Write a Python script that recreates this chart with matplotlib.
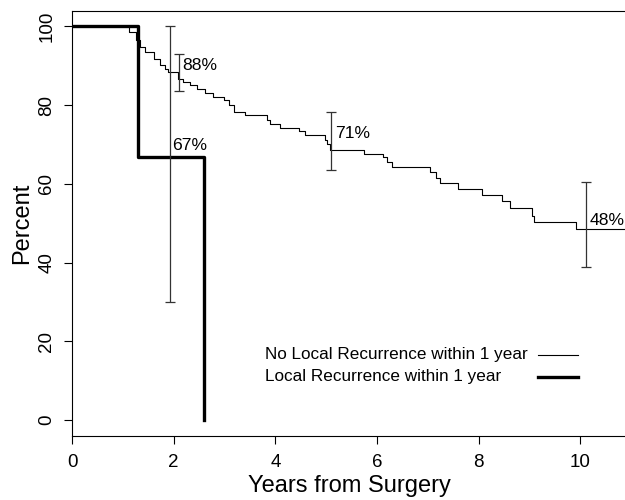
import matplotlib
matplotlib.use("Agg")
import matplotlib.pyplot as plt
from matplotlib.lines import Line2D

plt.rcParams['font.family'] = ['Liberation Sans', 'DejaVu Sans']

# no local recurrence within 1 year (Kaplan-Meier steps)
t_no = [0, 1.12, 1.25, 1.34, 1.44, 1.61, 1.74, 1.82, 1.89, 2.09, 2.19, 2.33, 2.46,
        2.62, 2.78, 2.98, 3.08, 3.18, 3.40, 3.84, 3.90, 4.10, 4.46, 4.59, 4.97,
        5.02, 5.08, 5.74, 6.12, 6.20, 6.30, 7.04, 7.15, 7.24, 7.59, 8.06, 8.45,
        8.62, 9.04, 9.09, 9.92, 10.9]
s_no = [100, 98.5, 96.4, 94.7, 93.4, 91.7, 90.1, 89.2, 88.3, 86.7, 85.8, 85.0, 84.2,
        83.0, 82.0, 81.3, 79.9, 78.2, 77.6, 76.1, 75.3, 74.2, 73.4, 72.4, 71.1,
        70.2, 68.6, 67.5, 66.7, 65.6, 64.2, 63.1, 61.5, 60.1, 58.6, 57.1, 55.7,
        53.8, 51.9, 50.3, 48.5, 48.5]

# local recurrence within 1 year
t_lr = [0, 1.29, 2.6]
s_lr = [100, 66.7, 0]

# confidence intervals and labels
ci_no_x = [2.1, 5.1, 10.1]
ci_no_lo = [83.6, 63.5, 38.9]
ci_no_hi = [93.0, 78.2, 60.4]
ci_no_lab = ['88%', '71%', '48%']
ci_no_laby = [90, 72.8, 50.8]

ci_lr_x = [1.92]
ci_lr_lo = [30]
ci_lr_hi = [100]
ci_lr_lab = ['67%']
ci_lr_laby = [66.7]

legend_labels = ['No Local Recurrence within 1 year', 'Local Recurrence within 1 year']

fig = plt.figure(figsize=(6.25, 5), dpi=100)
ax = fig.add_axes([72 / 625, 1 - 436 / 500, 1 - 72 / 625 + 0.002, (436 - 10.5) / 500])

ax.step(t_no, s_no, where='post', color='black', lw=0.8)
ax.step(t_lr, s_lr, where='post', color='black', lw=2.4)

for x, lo, hi in zip(ci_no_x + ci_lr_x, ci_no_lo + ci_lr_lo, ci_no_hi + ci_lr_hi):
    ax.errorbar([x], [(lo + hi) / 2], yerr=[[(hi - lo) / 2], [(hi - lo) / 2]],
                fmt='none', ecolor='#333333', elinewidth=0.9, capsize=3.6, capthick=0.9)

for x, y, lab in zip(ci_no_x, ci_no_laby, ci_no_lab):
    ax.text(x + 0.07, y, lab, fontsize=12.6, va='center', ha='left')
for x, y, lab in zip(ci_lr_x, ci_lr_laby, ci_lr_lab):
    ax.text(x + 0.05, y + 1.2, lab, fontsize=12.6, va='bottom', ha='left')

ax.set_xlim(0, 10.9)
ax.set_ylim(-4, 104)
ax.set_xticks([0, 2, 4, 6, 8, 10])
ax.set_yticks([0, 20, 40, 60, 80, 100])
ax.set_yticklabels(['0', '20', '40', '60', '80', '100'], rotation=90, va='center')
ax.tick_params(labelsize=13.5, length=6, width=0.8)
ax.tick_params(axis='x', pad=7)
ax.tick_params(axis='y', pad=6)
for sp in ax.spines.values():
    sp.set_linewidth(0.8)
ax.set_xlabel('Years from Surgery', fontsize=17, labelpad=3)
ax.set_ylabel('Percent', fontsize=17, labelpad=4)

# legend drawn by hand: text left-aligned, line sample to the right
for i, (lab, lw) in enumerate(zip(legend_labels, [0.8, 2.4])):
    yf = 1 - (355 + 22 * i) / 500
    fig.text(265 / 625, yf, lab, fontsize=12.3, va='center', ha='left')
    fig.add_artist(Line2D([538 / 625, 578 / 625], [yf, yf], color='black', lw=lw,
                          transform=fig.transFigure))

fig.savefig('out.png', dpi=100)
